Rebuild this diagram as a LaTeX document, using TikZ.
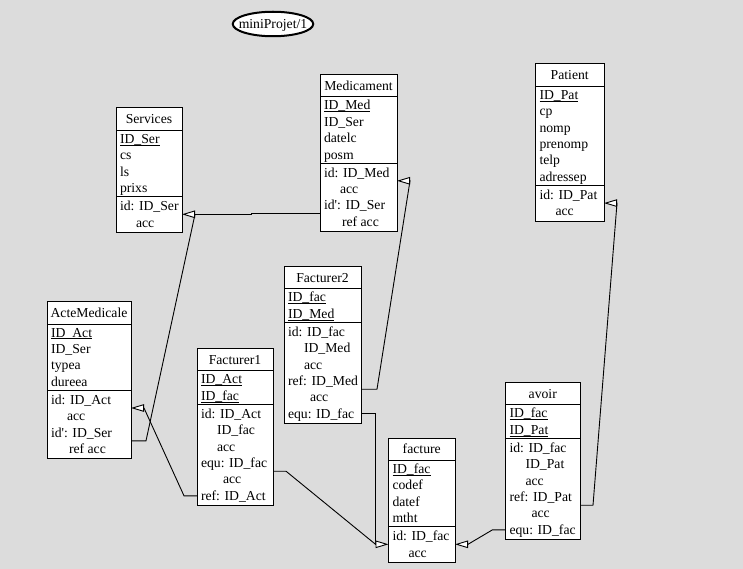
\documentclass[tikz,border=0pt]{standalone}
\usepackage{fontspec}
\setmainfont{Liberation Serif}
\usetikzlibrary{arrows.meta,calc,shapes.geometric}

\definecolor{canvas}{RGB}{220,220,220}
\newcommand\erfont{\fontsize{13.7}{16}\selectfont}
% primary-key attribute: underlined, the underline sitting on the underscore
\newcommand\keyattr[1]{\underline{\raisebox{0pt}[\height][0pt]{#1}}}
\newcommand\sq{\textquotesingle}

% entity table: name, left x, top y, width, title,
% number of attributes, attributes, number of key lines, indent/key lines
\newcommand\ertable[9]{%
  \pgfmathsetmacro\erA{22.4+16.4*#6+0.6}%
  \pgfmathsetmacro\erH{\erA+16.4*#8+3}%
  \node[tablebox, minimum width=#4pt, minimum height=\erH pt, anchor=north west] (#1) at (#2,#3) {};
  \node[rowtext, anchor=center] (#1-title) at ([yshift=-11.4pt]#1.north) {#5};
  \draw[sepline] ([yshift=-22.4pt]#1.north west) -- ([yshift=-22.4pt]#1.north east);
  \draw[sepline] ([yshift=-\erA pt]#1.north west) -- ([yshift=-\erA pt]#1.north east);
  \foreach \erattr [count=\eri from 0] in {#7}{%
    \pgfmathsetmacro\ery{22.4+8.5+16.4*\eri}%
    \node[rowtext] (#1-a\eri) at ([xshift=4pt, yshift=-\ery pt]#1.north west) {\erattr};}
  \foreach \erind/\erkey [count=\erj from 0] in {#9}{%
    \pgfmathsetmacro\ery{\erA+9.5+16.4*\erj}%
    \pgfmathsetmacro\erx{4+\erind}%
    \node[rowtext] (#1-k\erj) at ([xshift=\erx pt, yshift=-\ery pt]#1.north west) {\erkey};}
}

\begin{document}
\begin{tikzpicture}[x=1pt, y=-1pt,
  tablebox/.style={draw=black, fill=white, line width=1pt, inner sep=0pt, outer sep=0pt},
  sepline/.style={line width=1pt},
  rowtext/.style={inner sep=0pt, outer sep=0pt, text height=12pt, text depth=3pt,
    minimum height=16.4pt, anchor=west, font=\erfont, text=black},
  conn/.style={line width=0.9pt, black},
  refarrow/.style={-{Triangle[length=13pt, width=7.5pt, fill=white]}}]

\fill[canvas] (0,0) rectangle (743,569);
\useasboundingbox (0,0) rectangle (743,569);

% schema title
\node[draw, ellipse, line width=2pt, fill=white, minimum width=80.5pt, minimum height=24.5pt,
  inner sep=0pt, text height=12pt, text depth=3pt, font=\erfont] (proj) at (273,24)
  {\makebox[0pt]{miniProjet/1}};

% entity tables
\ertable{services}{116}{108}{66}{Services}{4}
  {{\keyattr{ID\_Ser}}, cs, ls, prixs}{2}
  {0/{id: ID\_Ser}, 16/acc}
\ertable{medicament}{320}{74.5}{77}{Medicament}{4}
  {{\keyattr{ID\_Med}}, ID\_Ser, datelc, posm}{4}
  {0/{id: ID\_Med}, 16/acc, 0/{id\sq: ID\_Ser}, 18/{ref acc}}
\ertable{patient}{535.5}{64}{68.5}{Patient}{6}
  {{\keyattr{ID\_Pat}}, cp, nomp, prenomp, telp, adressep}{2}
  {0/{id: ID\_Pat}, 16/acc}
\ertable{acte}{47}{301.7}{84}{ActeMedicale}{4}
  {{\keyattr{ID\_Act}}, ID\_Ser, typea, dureea}{4}
  {0/{id: ID\_Act}, 16/acc, 0/{id\sq: ID\_Ser}, 18/{ref acc}}
\ertable{fact1}{197}{348.5}{76}{Facturer1}{2}
  {{\keyattr{ID\_Act}}, {\keyattr{ID\_fac}}}{6}
  {0/{id: ID\_Act}, 16/ID\_fac, 16/acc, 0/{equ: ID\_fac}, 22/acc, 0/{ref: ID\_Act}}
\ertable{fact2}{284}{266.5}{77}{Facturer2}{2}
  {{\keyattr{ID\_fac}}, {\keyattr{ID\_Med}}}{6}
  {0/{id: ID\_fac}, 16/ID\_Med, 16/acc, 0/{ref: ID\_Med}, 22/acc, 0/{equ: ID\_fac}}
\ertable{facture}{388.5}{438}{66.5}{facture}{4}
  {{\keyattr{ID\_fac}}, codef, datef, mtht}{2}
  {0/{id: ID\_fac}, 16/acc}
\ertable{avoir}{505.5}{382.5}{74.5}{avoir}{2}
  {{\keyattr{ID\_fac}}, {\keyattr{ID\_Pat}}}{6}
  {0/{id: ID\_fac}, 16/ID\_Pat, 16/acc, 0/{ref: ID\_Pat}, 22/acc, 0/{equ: ID\_fac}}

% connection ports on the table borders
\coordinate (ser-id)  at (services-k0.south -| services.east);
\coordinate (med-id)  at (medicament-k0.south -| medicament.east);
\coordinate (med-idp) at (medicament-k2.south -| medicament.west);
\coordinate (pat-id)  at (patient-k0.south -| patient.east);
\coordinate (acte-id) at (acte-k0.south -| acte.east);
\coordinate (acte-idp) at (acte-k2.south -| acte.east);
\coordinate (f1-equ)  at (fact1-k3.south -| fact1.east);
\coordinate (f1-ref)  at (fact1-k5.west -| fact1.west);
\coordinate (f2-ref)  at (fact2-k3.south -| fact2.east);
\coordinate (f2-equ)  at (fact2-k5.west -| fact2.east);
\coordinate (fac-idl) at (facture-k0.south -| facture.west);
\coordinate (fac-idr) at (facture-k0.south -| facture.east);
\coordinate (av-ref)  at (avoir-k3.south -| avoir.east);
\coordinate (av-equ)  at (avoir-k5.west -| avoir.west);

% references
\draw[conn, refarrow] (med-idp) -- ++(-69,0) |- (ser-id);
\draw[conn] (acte-idp) -- ++(15,0) -- ([xshift=13pt]ser-id);
\draw[conn, refarrow] (f1-ref) -- ++(-13,0) -- ([xshift=13pt]acte-id) -- (acte-id);
\draw[conn, refarrow] (f2-ref) -- ++(16,0) -- ([xshift=13pt]med-id) -- (med-id);
\draw[conn, refarrow] (f2-equ) -| ([xshift=-13pt]fac-idl) -- (fac-idl);
\draw[conn] (f1-equ) -- ++(13,0) -- ([xshift=-13pt]fac-idl);
\draw[conn, refarrow] (av-equ) -- ++(-13,0) -- ([xshift=13pt]fac-idr) -- (fac-idr);
\draw[conn, refarrow] (av-ref) -- ++(13,0) -- ([xshift=13pt]pat-id) -- (pat-id);
\end{tikzpicture}
\end{document}
